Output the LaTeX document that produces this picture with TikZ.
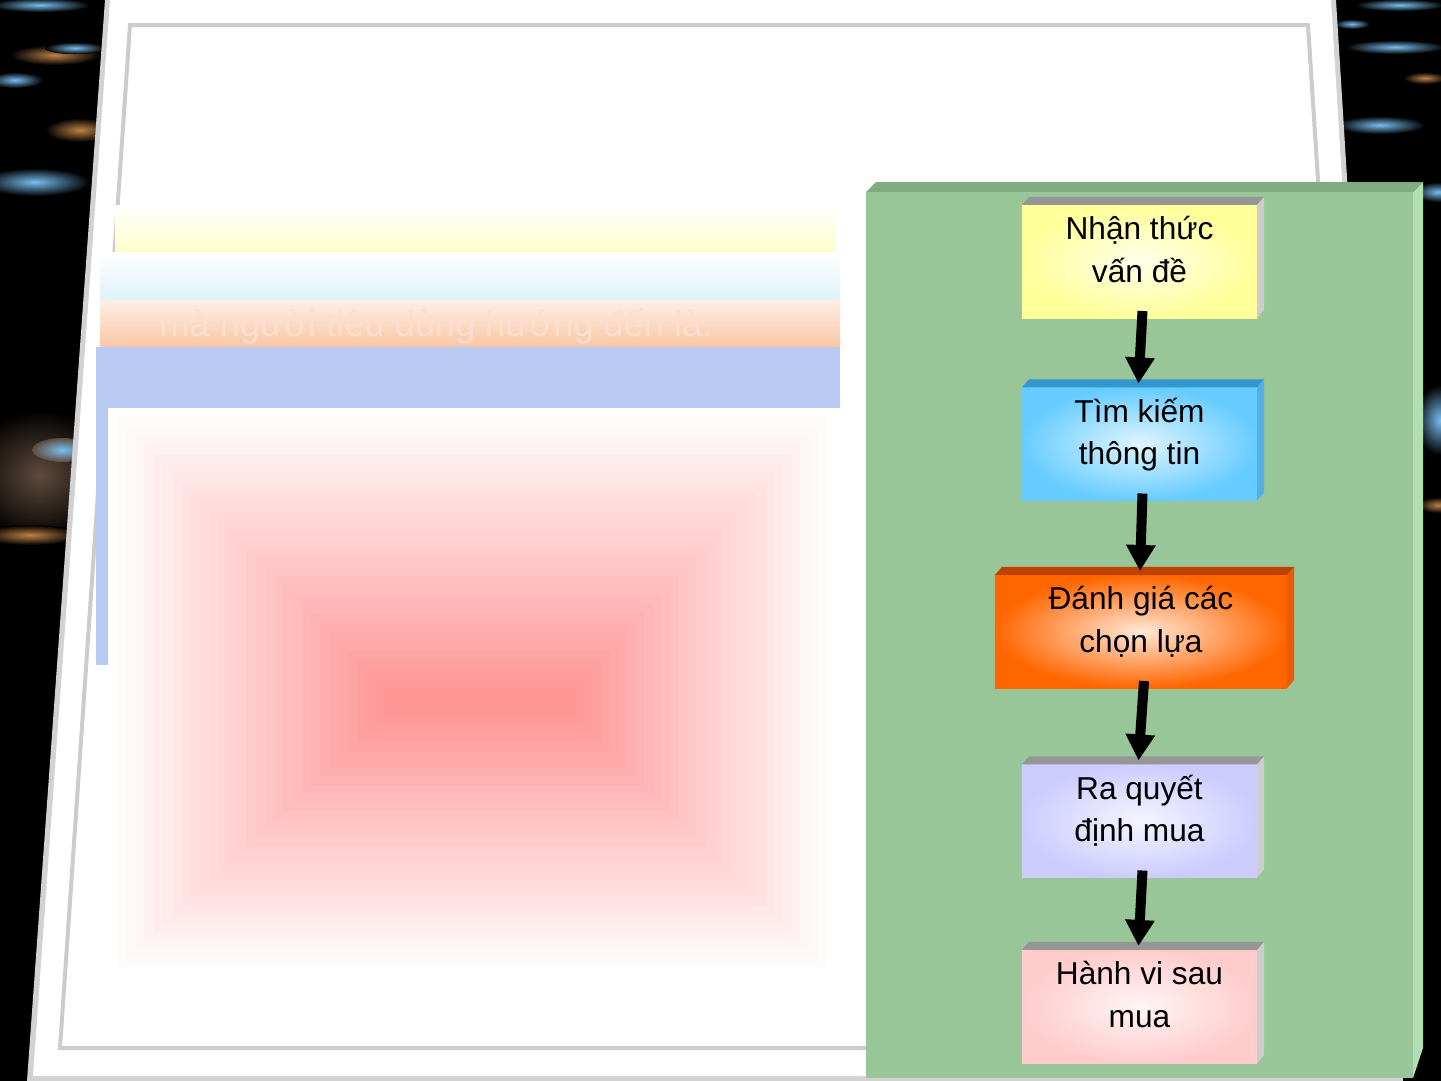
\documentclass[tikz,border=0pt]{standalone}
\usepackage{fontspec}
\setmainfont{Liberation Sans}
\usetikzlibrary{arrows.meta}

\definecolor{blueglow}{RGB}{120,190,240}
\definecolor{orangeglow}{RGB}{190,130,70}
\definecolor{brownglow}{RGB}{95,75,60}
\definecolor{bandyellow}{RGB}{255,255,200}
\definecolor{bandblue}{RGB}{222,242,250}
\definecolor{bandorange}{RGB}{249,198,165}
\definecolor{bandlilac}{RGB}{186,203,243}
\definecolor{pinkcore}{RGB}{255,150,150}
\definecolor{faintc}{RGB}{251,222,206}
\definecolor{greenpanel}{RGB}{152,198,152}
\definecolor{greentop}{RGB}{128,172,128}
\definecolor{greenside}{RGB}{178,222,178}
\definecolor{yelbox}{RGB}{255,255,153}
\definecolor{bluebox}{RGB}{102,204,255}
\definecolor{orangebox}{RGB}{255,102,0}
\definecolor{lilacbox}{RGB}{204,204,255}
\definecolor{pinkbox}{RGB}{255,204,204}
\definecolor{topgray}{RGB}{150,150,150}
\definecolor{sidegray}{RGB}{205,205,205}
\definecolor{bluetop}{RGB}{51,150,204}
\definecolor{blueside}{RGB}{85,175,230}
\definecolor{orangetop}{RGB}{190,65,0}
\definecolor{orangeside}{RGB}{235,90,0}

% two centred lines, sitting a little above the middle of the box
\newcommand{\twoline}[2]{\begin{tabular}{@{}c@{}}#1\\#2\end{tabular}\rule[-0.52cm]{0pt}{0pt}}

\begin{document}
\begin{tikzpicture}[x=0.01cm, y=-0.01cm,
    stage/.style={rectangle, outer sep=0pt, inner sep=0pt, minimum width=2.35cm,
      minimum height=1.13cm, text=black, font=\fontsize{9pt}{12pt}\selectfont},
    flow/.style={black, line width=0.1cm, -{Triangle[width=0.28cm,length=0.26cm]}},
    glow/.style={inner color=#1, outer color=black}]

		\useasboundingbox (0,0) rectangle (1441,1081);
		\fill[black] (0,0) rectangle (1441,1081);

		% lights on the black sides
		\fill[glow=blueglow] (40,5) ellipse [x radius=0.5cm, y radius=0.07cm];
		\fill[glow=orangeglow] (55,55) ellipse [x radius=0.45cm, y radius=0.1cm];
		\fill[glow=blueglow] (75,48) ellipse [x radius=0.3cm, y radius=0.06cm];
		\fill[glow=blueglow] (15,80) ellipse [x radius=0.28cm, y radius=0.08cm];
		\fill[glow=orangeglow] (80,130) ellipse [x radius=0.35cm, y radius=0.12cm];
		\fill[glow=blueglow] (35,182) ellipse [x radius=0.55cm, y radius=0.14cm];
		\fill[glow=brownglow] (40,475) ellipse [x radius=0.75cm, y radius=0.65cm];
		\fill[glow=blueglow, outer color=brownglow] (62,450) ellipse [x radius=0.3cm, y radius=0.12cm];
		\fill[glow=orangeglow] (30,535) ellipse [x radius=0.5cm, y radius=0.1cm];
		\fill[glow=blueglow] (1400,5) ellipse [x radius=0.45cm, y radius=0.06cm];
		\fill[glow=blueglow] (1352,24) ellipse [x radius=0.18cm, y radius=0.05cm];
		\fill[glow=blueglow] (1395,47) ellipse [x radius=0.5cm, y radius=0.07cm];
		\fill[glow=orangeglow] (1425,78) ellipse [x radius=0.22cm, y radius=0.06cm];
		\fill[glow=blueglow] (1380,125) ellipse [x radius=0.45cm, y radius=0.09cm];
		\fill[glow=blueglow] (1438,192) ellipse [x radius=0.25cm, y radius=0.1cm];
		\fill[glow=blueglow] (1440,420) ellipse [x radius=0.25cm, y radius=0.35cm];
		\fill[glow=orangeglow] (1438,505) ellipse [x radius=0.2cm, y radius=0.08cm];

		% frame
		\fill[gray!35] (105,0) -- (1336,0) -- (1403,1081) -- (27,1081) -- cycle;
		\fill[white] (110,0) -- (1331,0) -- (1397,1076) -- (33,1076) -- cycle;
		\draw[gray!40, line width=0.04cm, fill=white] (130,25) -- (1308,25) -- (1374,1048) -- (60,1048) -- cycle;

		% bands on the left
		\shade[top color=white, bottom color=bandyellow] (115,205) rectangle (835,252);
		\shade[top color=white, bottom color=bandblue] (100,252) rectangle (840,300);
		\shade[top color=white!70!bandorange, bottom color=bandorange] (100,300) rectangle (840,347);
		\node[text=faintc, font=\fontsize{10.3pt}{12pt}\selectfont] (lead) at (436,326) {mà người tiêu dùng hướng đến là:};
		\fill[bandlilac] (96,347) rectangle (840,408);
		\fill[bandlilac] (96,408) rectangle (108,665);
		\foreach \i in {0,...,30}{
			\pgfmathsetmacro\f{\i/30}
			\pgfmathsetmacro\p{100*\f}
			\fill[pinkcore!\p!white] ({108+\f*277},{408+\f*280}) rectangle ({835-\f*260},{975-\f*259});
		}

		% green panel
		\fill[greentop] (866,192) -- (876,182) -- (1423,182) -- (1413,192) -- cycle;
		\fill[greenside] (1413,192) -- (1423,182) -- (1423,1048) -- (1413,1078) -- cycle;
		\fill[greenpanel] (866,192) rectangle (1413,1078);

		% stages
		\node[stage, outer color=yelbox, inner color=white!80!yelbox] (s1) at (1139.5,261.5) {\twoline{Nhận thức}{vấn đề}};
		\node[stage, outer color=bluebox, inner color=white!80!bluebox] (s2) at (1139.5,444) {\twoline{Tìm kiếm}{thông tin}};
		\node[stage, minimum width=2.92cm, outer color=orangebox, inner color=white!85!orangebox] (s3) at (1141,631.5) {\twoline{Đánh giá các}{chọn lựa}};
		\node[stage, outer color=lilacbox, inner color=white!80!lilacbox] (s4) at (1139.5,821) {\twoline{Ra quyết}{định mua}};
		\node[stage, outer color=pinkbox, inner color=white!80!pinkbox] (s5) at (1139.5,1006.5) {\twoline{Hành vi sau}{mua}};

		\foreach \n/\tc/\sc in {s1/topgray/sidegray, s2/bluetop/blueside, s3/orangetop/orangeside, s4/topgray/sidegray, s5/topgray/sidegray}{
			\fill[\tc] (\n.north west) -- ++(7,-8) -- ([shift={(7,-8)}]\n.north east) -- (\n.north east) -- cycle;
			\fill[\sc] (\n.north east) -- ([shift={(7,-8)}]\n.north east) -- ([shift={(7,-8)}]\n.south east) -- (\n.south east) -- cycle;
		}

		\foreach \a/\b in {s1/s2, s2/s3, s3/s4, s4/s5}
			\draw[flow] ([xshift=0.03cm,yshift=0.07cm]\a.south) -- ([xshift=-0.01cm,yshift=0.04cm]\b.north);
\end{tikzpicture}
\end{document}
